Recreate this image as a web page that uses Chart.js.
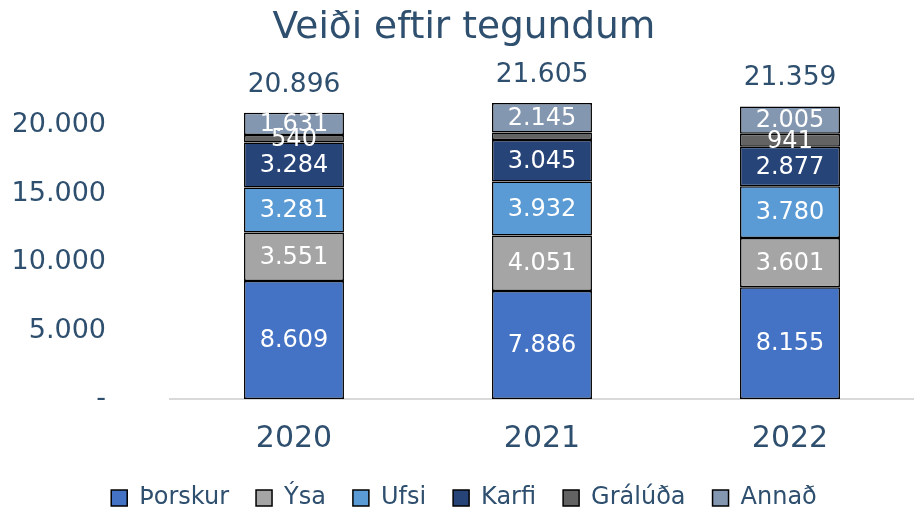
<!DOCTYPE html>
<html>
<head>
<meta charset="utf-8">
<script src="https://cdn.jsdelivr.net/npm/chart.js@4"></script>
<style>
  html, body { margin: 0; padding: 0; background: #fff; }
  #wrap { width: 914px; height: 508px; }
</style>
</head>
<body>
<div id="wrap"><canvas id="veidi" width="914" height="508"></canvas></div>
<script>
const years = ["2020", "2021", "2022"];
const thorskur = [8609, 7886, 8155];
const ysa = [3551, 4051, 3601];
const ufsi = [3281, 3932, 3780];
const karfi = [3284, 3045, 2877];
const graluda = [540, 546, 941];
const annad = [1631, 2145, 2005];
const totals = [20896, 21605, 21359];
const yTicks = [0, 5000, 10000, 15000, 20000];

const textColor = "#2f4f6f";
const font = "'DejaVu Sans', Verdana, sans-serif";

// 2021 Grálúða has no label in the original
const hiddenLabels = { "4-1": true };

const fmt = (v) => v === 0 ? "-" : v.toLocaleString("de-DE");

const segLabels = {
  id: "segLabels",
  afterDatasetsDraw(chart) {
    const ctx = chart.ctx;
    ctx.save();
    ctx.textAlign = "center";
    ctx.textBaseline = "middle";
    chart.data.datasets.forEach((ds, di) => {
      const meta = chart.getDatasetMeta(di);
      meta.data.forEach((bar, i) => {
        if (hiddenLabels[di + "-" + i]) return;
        const mid = (bar.y + bar.base) / 2;
        ctx.fillStyle = "#fff";
        ctx.font = "24px " + font;
        ctx.fillText(fmt(ds.data[i]), bar.x, mid + 1);
      });
    });
    // totals above the stack
    const top = chart.getDatasetMeta(chart.data.datasets.length - 1);
    top.data.forEach((bar, i) => {
      ctx.fillStyle = textColor;
      ctx.font = "26.5px " + font;
      ctx.fillText(fmt(totals[i]), bar.x, bar.y - 28);
    });
    ctx.restore();
  }
};

const mk = (label, data, color) => ({
  label, data,
  backgroundColor: color,
  borderColor: "#000",
  borderWidth: 1.5,
  borderSkipped: false,
  barPercentage: 0.806,
  categoryPercentage: 0.5
});

new Chart(document.getElementById("veidi"), {
  type: "bar",
  data: {
    labels: years,
    datasets: [
      mk("Þorskur", thorskur, "#4472c4"),
      mk("Ýsa", ysa, "#a5a5a5"),
      mk("Ufsi", ufsi, "#5b9bd5"),
      mk("Karfi", karfi, "#264478"),
      mk("Grálúða", graluda, "#636363"),
      mk("Annað", annad, "#8497b0")
    ]
  },
  options: {
    responsive: false,
    animation: false,
    layout: { padding: { left: 14, right: 0, top: 0, bottom: -12 } },
    plugins: {
      title: {
        display: true,
        text: "Veiði eftir tegundum",
        color: textColor,
        font: { family: font, size: 37.5, weight: "normal", lineHeight: 1 },
        padding: { top: 10, bottom: 9 }
      },
      legend: {
        position: "bottom",
        labels: {
          color: textColor,
          font: { family: font, size: 24 },
          boxWidth: 16,
          boxHeight: 16,
          padding: 27
        }
      },
      tooltip: { enabled: false }
    },
    scales: {
      x: {
        stacked: true,
        afterFit(scale) { scale.height = 60; },
        grid: { display: false, drawTicks: false },
        border: { display: true, color: "#d9d9d9", width: 2 },
        ticks: { color: textColor, font: { family: font, size: 30 }, padding: 22 }
      },
      y: {
        stacked: true,
        min: 0,
        max: 25000,
        afterBuildTicks(scale) { scale.ticks = yTicks.map(v => ({ value: v })); },
        afterFit(scale) { scale.width = 156; },
        grid: { display: false, drawTicks: true, tickLength: 60, tickColor: "transparent" },
        border: { display: false },
        ticks: {
          color: textColor,
          font: { family: font, size: 27, lineHeight: 0.1 },
          padding: 4,
          callback: (v) => fmt(v)
        }
      }
    }
  },
  plugins: [segLabels]
});
</script>
</body>
</html>
